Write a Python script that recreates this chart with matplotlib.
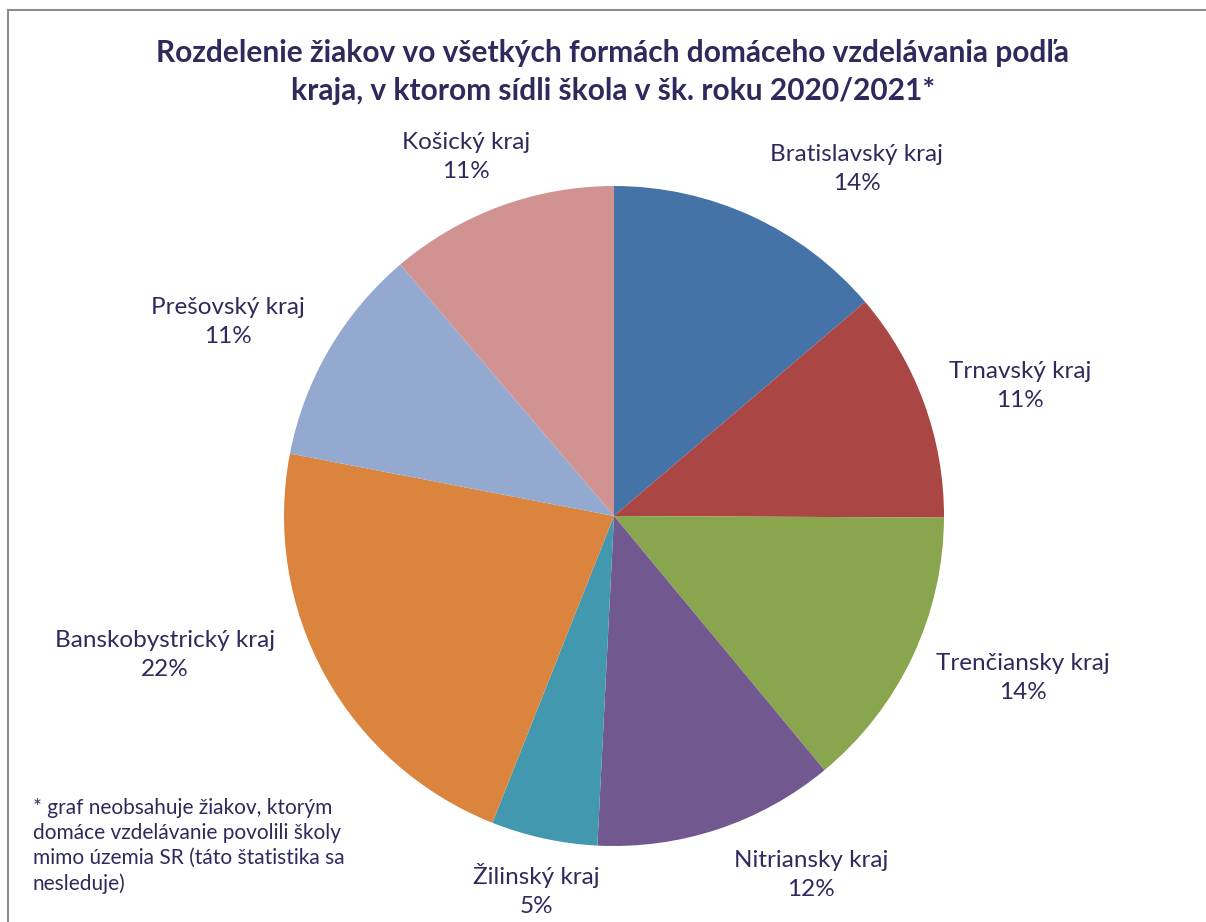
import matplotlib
matplotlib.use("Agg")
import matplotlib.pyplot as plt
from matplotlib.patches import Rectangle

# data (shares in %; pie goes clockwise from 12 o'clock)
regions = ["Bratislavský kraj", "Trnavský kraj", "Trenčiansky kraj", "Nitriansky kraj",
           "Žilinský kraj", "Banskobystrický kraj", "Prešovský kraj", "Košický kraj"]
shares = [13.75, 11.3, 13.9, 11.8, 5.2, 22.0, 10.75, 11.2]
share_labels = ["14%", "11%", "14%", "12%", "5%", "22%", "11%", "11%"]

colors = ["#4572A7", "#AA4643", "#89A54E", "#71588F",
          "#4198AF", "#DB843D", "#93A9CF", "#D19392"]
# label anchor (x, y) in pixels from top-left, layout only
label_pos = [(857, 169), (1020, 386), (1023, 678), (811, 875),
             (536, 890), (165, 655), (228, 322), (466, 157)]

W, H = 1206, 922
text_col = "#2E2B5C"
plt.rcParams["font.family"] = ["Lato", "DejaVu Sans"]

fig = plt.figure(figsize=(W / 100, H / 100), dpi=100)
ax = fig.add_axes([0, 0, 1, 1])

# chart frame
ax.add_patch(Rectangle((8, -20), W + 20, H - 10 + 20, fill=False,
                       edgecolor="#8C8C8C", linewidth=1.5))

ax.pie(shares, colors=colors, startangle=90, counterclock=False,
       center=(614, H - 516), radius=330, frame=True,
       wedgeprops=dict(edgecolor="none", linewidth=0))
ax.set_xlim(0, W)
ax.set_ylim(0, H)
ax.axis("off")

for name, pct, (x, y) in zip(regions, share_labels, label_pos):
    ax.text(x, H - y, f"{name}\n{pct}", ha="center", va="center",
            fontsize=17.5, color=text_col, linespacing=1.52)

ax.text(613, H - 72, "Rozdelenie žiakov vo všetkých formách domáceho vzdelávania podľa\n"
        "kraja, v ktorom sídli škola v šk. roku 2020/2021*",
        ha="center", va="center", fontsize=21.5, fontweight="bold",
        color=text_col, linespacing=1.4)

ax.text(33, H - 846, "* graf neobsahuje žiakov, ktorým\ndomáce vzdelávanie povolili školy\n"
        "mimo územia SR (táto štatistika sa\nnesleduje)",
        ha="left", va="center", fontsize=15, color=text_col, linespacing=1.32)

fig.savefig("out.png", dpi=100)
